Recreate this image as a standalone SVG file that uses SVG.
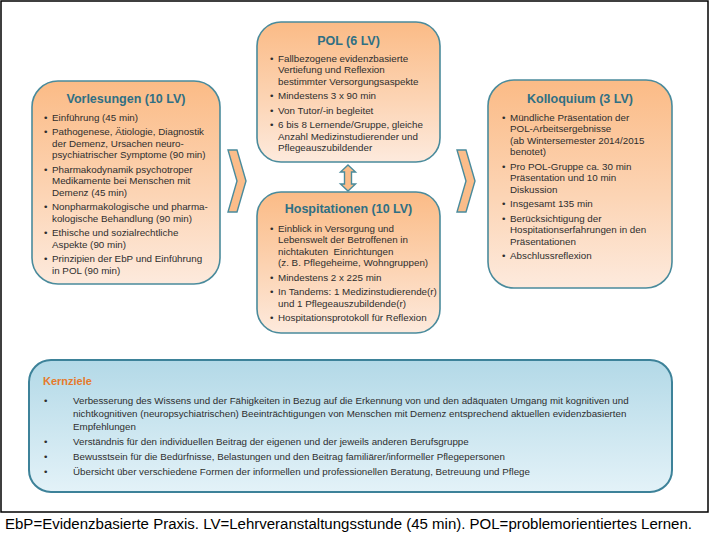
<svg xmlns="http://www.w3.org/2000/svg" width="710" height="534" viewBox="0 0 710 534">
<defs>
<linearGradient id="og" x1="0" y1="0" x2="0" y2="1">
<stop offset="0" stop-color="#fbbb86"/>
<stop offset="0.55" stop-color="#fcd4b4"/>
<stop offset="1" stop-color="#fdeadd"/>
</linearGradient>
<linearGradient id="bg" x1="0" y1="0" x2="0" y2="1">
<stop offset="0" stop-color="#b3d9e7"/>
<stop offset="1" stop-color="#e3f2f8"/>
</linearGradient>
<style>
.box{fill:url(#og);stroke:#4a8b9c;stroke-width:1.6}
.kbox{fill:url(#bg);stroke:#3d8299;stroke-width:2}
.t{font-family:"Liberation Sans",Arial,sans-serif;font-size:12.5px;font-weight:bold;fill:#2f6f84;text-anchor:middle}
.b{font-family:"Liberation Sans",Arial,sans-serif;font-size:9.8px;fill:#2e2e2e}
.k{font-family:"Liberation Sans",Arial,sans-serif;font-size:9.75px;fill:#2e2e2e}
.kt{font-family:"Liberation Sans",Arial,sans-serif;font-size:11px;font-weight:bold;fill:#e57a2c}
.con{fill:#fbbd8a;stroke:#4a8b9c;stroke-width:1.4;stroke-linejoin:miter}
.f{font-family:"Liberation Sans",Arial,sans-serif;font-size:14px;fill:#000000}
</style>
</defs>
<rect x="1" y="1" width="707" height="511" fill="#ffffff" stroke="#000000" stroke-width="1.5"/>

<g id="connectors">
<polygon class="con" points="228,150 237,150 246,181 237,212 228,212 237,181"/>
<polygon class="con" points="457,150 466,150 475,181 466,212 457,212 466,181"/>
<path class="con" d="M348,165 L355.5,172 L351.5,172 L351.5,184 L355.5,184 L348,191 L340.5,184 L344.5,184 L344.5,172 L340.5,172 Z"/>
</g>

<g id="vorlesungen">
<rect class="box" x="32" y="81" width="188" height="203" rx="26" ry="26"/>
<text class="t" x="126" y="102.5">Vorlesungen (10 LV)</text>
<text class="b" x="44" y="120.5">•</text><text class="b" x="52" y="120.5">Einführung (45 min)</text>
<text class="b" x="44" y="135">•</text><text class="b" x="52" y="135">Pathogenese, Ätiologie, Diagnostik</text>
<text class="b" x="52" y="146.5">der Demenz, Ursachen neuro-</text>
<text class="b" x="52" y="158">psychiatrischer Symptome (90 min)</text>
<text class="b" x="44" y="172.5">•</text><text class="b" x="52" y="172.5">Pharmakodynamik psychotroper</text>
<text class="b" x="52" y="184">Medikamente bei Menschen mit</text>
<text class="b" x="52" y="195.5">Demenz (45 min)</text>
<text class="b" x="44" y="210">•</text><text class="b" x="52" y="210">Nonpharmakologische und pharma-</text>
<text class="b" x="52" y="221.5">kologische Behandlung (90 min)</text>
<text class="b" x="44" y="236">•</text><text class="b" x="52" y="236">Ethische und sozialrechtliche</text>
<text class="b" x="52" y="247.5">Aspekte (90 min)</text>
<text class="b" x="44" y="262">•</text><text class="b" x="52" y="262">Prinzipien der EbP und Einführung</text>
<text class="b" x="52" y="273.5">in POL (90 min)</text>
</g>

<g id="pol">
<rect class="box" x="257" y="22" width="183" height="140" rx="24" ry="24"/>
<text class="t" x="348.5" y="44.5">POL (6 LV)</text>
<text class="b" x="270" y="61.5">•</text><text class="b" x="278" y="61.5">Fallbezogene evidenzbasierte</text>
<text class="b" x="278" y="73">Vertiefung und Reflexion</text>
<text class="b" x="278" y="84.5">bestimmter Versorgungsaspekte</text>
<text class="b" x="270" y="99">•</text><text class="b" x="278" y="99">Mindestens 3 x 90 min</text>
<text class="b" x="270" y="113.5">•</text><text class="b" x="278" y="113.5">Von Tutor/-in begleitet</text>
<text class="b" x="270" y="128">•</text><text class="b" x="278" y="128">6 bis 8 Lernende/Gruppe, gleiche</text>
<text class="b" x="278" y="139.5">Anzahl Medizinstudierender und</text>
<text class="b" x="278" y="151">Pflegeauszubildender</text>
</g>

<g id="hospitationen">
<rect class="box" x="257" y="192" width="183" height="141" rx="24" ry="24"/>
<text class="t" x="348.5" y="212.5">Hospitationen (10 LV)</text>
<text class="b" x="270" y="231.5">•</text><text class="b" x="278" y="231.5">Einblick in Versorgung und</text>
<text class="b" x="278" y="243">Lebenswelt der Betroffenen in</text>
<text class="b" x="278" y="254.5" xml:space="preserve">nichtakuten  Einrichtungen</text>
<text class="b" x="278" y="266">(z. B. Pflegeheime, Wohngruppen)</text>
<text class="b" x="270" y="280.5">•</text><text class="b" x="278" y="280.5">Mindestens 2 x 225 min</text>
<text class="b" x="270" y="295">•</text><text class="b" x="278" y="295">In Tandems: 1 Medizinstudierende(r)</text>
<text class="b" x="278" y="306.5">und 1 Pflegeauszubildende(r)</text>
<text class="b" x="270" y="321">•</text><text class="b" x="278" y="321">Hospitationsprotokoll für Reflexion</text>
</g>

<g id="kolloquium">
<rect class="box" x="488" y="80" width="184" height="208" rx="26" ry="26"/>
<text class="t" x="580" y="102.5">Kolloquium (3 LV)</text>
<text class="b" x="502" y="120.5">•</text><text class="b" x="510" y="120.5">Mündliche Präsentation der</text>
<text class="b" x="510" y="132">POL-Arbeitsergebnisse</text>
<text class="b" x="510" y="143.5">(ab Wintersemester 2014/2015</text>
<text class="b" x="510" y="155">benotet)</text>
<text class="b" x="502" y="169.5">•</text><text class="b" x="510" y="169.5">Pro POL-Gruppe ca. 30 min</text>
<text class="b" x="510" y="181">Präsentation und 10 min</text>
<text class="b" x="510" y="192.5">Diskussion</text>
<text class="b" x="502" y="207">•</text><text class="b" x="510" y="207">Insgesamt 135 min</text>
<text class="b" x="502" y="221.5">•</text><text class="b" x="510" y="221.5">Berücksichtigung der</text>
<text class="b" x="510" y="233">Hospitationserfahrungen in den</text>
<text class="b" x="510" y="244.5">Präsentationen</text>
<text class="b" x="502" y="259">•</text><text class="b" x="510" y="259">Abschlussreflexion</text>
</g>

<g id="kernziele">
<rect class="kbox" x="29" y="360" width="643" height="132" rx="22" ry="22"/>
<text class="kt" x="43" y="385">Kernziele</text>
<text class="k" x="44" y="403.5">•</text><text class="k" x="73" y="403.5">Verbesserung des Wissens und der Fähigkeiten in Bezug auf die Erkennung von und den adäquaten Umgang mit kognitiven und</text>
<text class="k" x="73" y="416.5">nichtkognitiven (neuropsychiatrischen) Beeinträchtigungen von Menschen mit Demenz entsprechend aktuellen evidenzbasierten</text>
<text class="k" x="73" y="429.5">Empfehlungen</text>
<text class="k" x="44" y="444.5">•</text><text class="k" x="73" y="444.5">Verständnis für den individuellen Beitrag der eigenen und der jeweils anderen Berufsgruppe</text>
<text class="k" x="44" y="459.5">•</text><text class="k" x="73" y="459.5">Bewusstsein für die Bedürfnisse, Belastungen und den Beitrag familiärer/informeller Pflegepersonen</text>
<text class="k" x="44" y="474.5">•</text><text class="k" x="73" y="474.5">Übersicht über verschiedene Formen der informellen und professionellen Beratung, Betreuung und Pflege</text>
</g>

<text class="f" x="5" y="529" textLength="687" lengthAdjust="spacingAndGlyphs">EbP=Evidenzbasierte Praxis. LV=Lehrveranstaltungsstunde (45 min). POL=problemorientiertes Lernen.</text>
</svg>
